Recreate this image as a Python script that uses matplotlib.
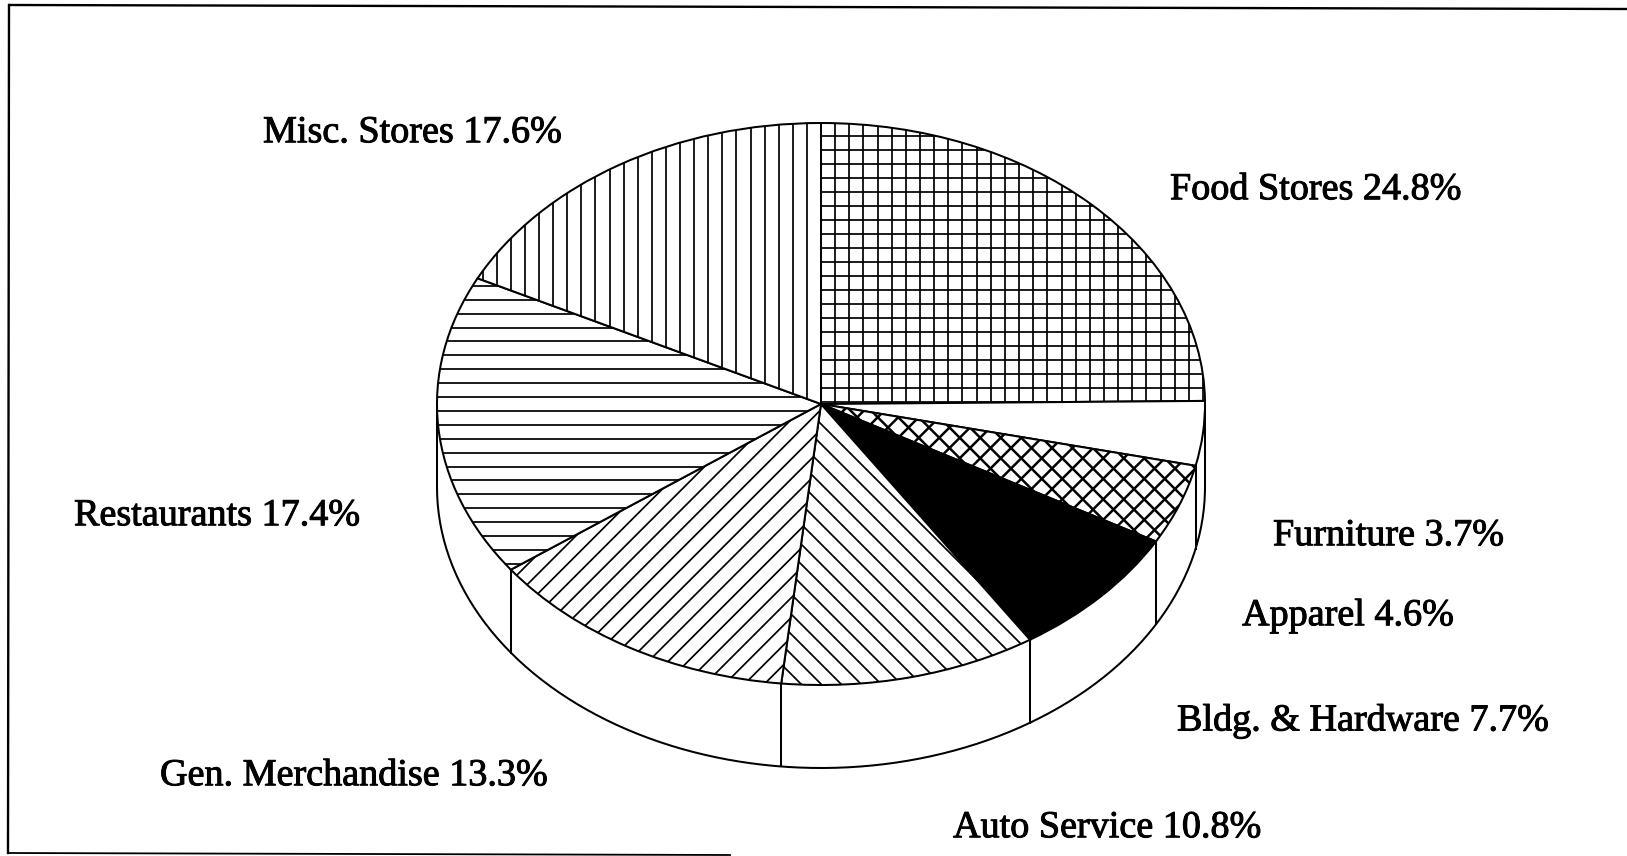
import matplotlib
matplotlib.use("Agg")
import matplotlib.pyplot as plt
import matplotlib.patheffects as pe
from matplotlib.collections import LineCollection
import numpy as np

plt.rcParams['font.family'] = ['Liberation Serif', 'DejaVu Serif']

names = ['Food Stores', 'Furniture', 'Apparel', 'Bldg. & Hardware',
         'Auto Service', 'Gen. Merchandise', 'Restaurants', 'Misc. Stores']
shares = [24.8, 3.7, 4.6, 7.7, 10.8, 13.3, 17.4, 17.6]
fills = ['white', 'white', 'white', 'black', 'white', 'white', 'white', 'white']
label_pos = [(1170, 187), (1273, 533), (1242, 613), (1177, 718),
             (953, 825), (160, 773), (74, 513), (263, 130)]

W, H = 1627, 856
cx, cy = 821, 404
rx, ry = 384, 281
depth = 83
LW = 1.45

fig = plt.figure(figsize=(W / 100, H / 100), dpi=100)
bg = fig.add_axes([0, 0, 1, 1])
bg.set_xlim(0, W)
bg.set_ylim(H, 0)
bg.axis('off')

# the frame is only partly there in the scan: no right side, bottom stops midway
bg.plot([10, 1627], [5, 9], color='black', lw=1.7)
bg.plot([9, 8], [5, 853], color='black', lw=1.7)
bg.plot([8, 730], [853, 855], color='black', lw=1.3)

# side wall, drawn in pixel space under the top face
edges = 90 - np.cumsum([0] + shares) * 360 / sum(shares)
t = np.radians(np.linspace(180, 360, 200))
wall_x = cx + rx * np.cos(t)
wall_y = cy - ry * np.sin(t)
bg.plot(wall_x, wall_y + depth, color='black', lw=LW)
bg.plot([cx - rx, cx - rx], [cy, cy + depth], color='black', lw=LW)
bg.plot([cx + rx, cx + rx], [cy, cy + depth], color='black', lw=LW)
for e in edges[:-1]:
    s = np.sin(np.radians(e))
    if s < 0:
        x0 = cx + rx * np.cos(np.radians(e))
        y0 = cy - ry * s
        bg.plot([x0, x0], [y0, y0 + depth], color='black', lw=LW)

top_ax = fig.add_axes([(cx - rx) / W, 1 - (cy + ry) / H, 2 * rx / W, 2 * ry / H])
top_ax.patch.set_alpha(0)
wedges, _ = top_ax.pie(shares, startangle=90, counterclock=False, radius=1.0,
                       colors=fills,
                       wedgeprops={'edgecolor': 'black', 'linewidth': LW})
top_ax.set_aspect('auto')
top_ax.set_xlim(-1, 1)
top_ax.set_ylim(-1, 1)


# matplotlib's hatch tile can't give these spacings, so clip plain lines to the wedges
def vlines(start, step):
    return [[(x, 0), (x, H)] for x in np.arange(start % step, W, step)]


def hlines(start, step):
    return [[(0, y), (W, y)] for y in np.arange(start % step, H, step)]


def rising(start, step):
    # x + y = c
    return [[(c, 0), (c - H, H)] for c in np.arange(start % step, W + H, step)]


def falling(start, step):
    # y - x = k
    return [[(-k, 0), (H - k, H)] for k in np.arange(-W + start % step, H, step)]


def hatch(wedge, segs, lw=1.25):
    lc = LineCollection(segs, colors='black', linewidths=lw, zorder=3,
                        transform=bg.transData)
    top_ax.add_collection(lc, autolim=False)
    lc.set_clip_path(wedge)


hatch(wedges[0], vlines(821, 14.15) + hlines(402, 14))
hatch(wedges[2], rising(1623, 20.5) + falling(-617, 20.5), lw=1.8)
hatch(wedges[4], falling(-250, 20))
hatch(wedges[5], rising(1092, 19.8))
hatch(wedges[6], hlines(397, 13.9))
hatch(wedges[7], vlines(807, 14.1))

for n, v, p in zip(names, shares, label_pos):
    txt = bg.text(p[0], p[1] + 3, f'{n} {v}%', fontsize=27.47, ha='left', va='center', color='black')
    txt.set_path_effects([pe.withStroke(linewidth=0.7, foreground='black')])

fig.savefig('out.png', dpi=100)
